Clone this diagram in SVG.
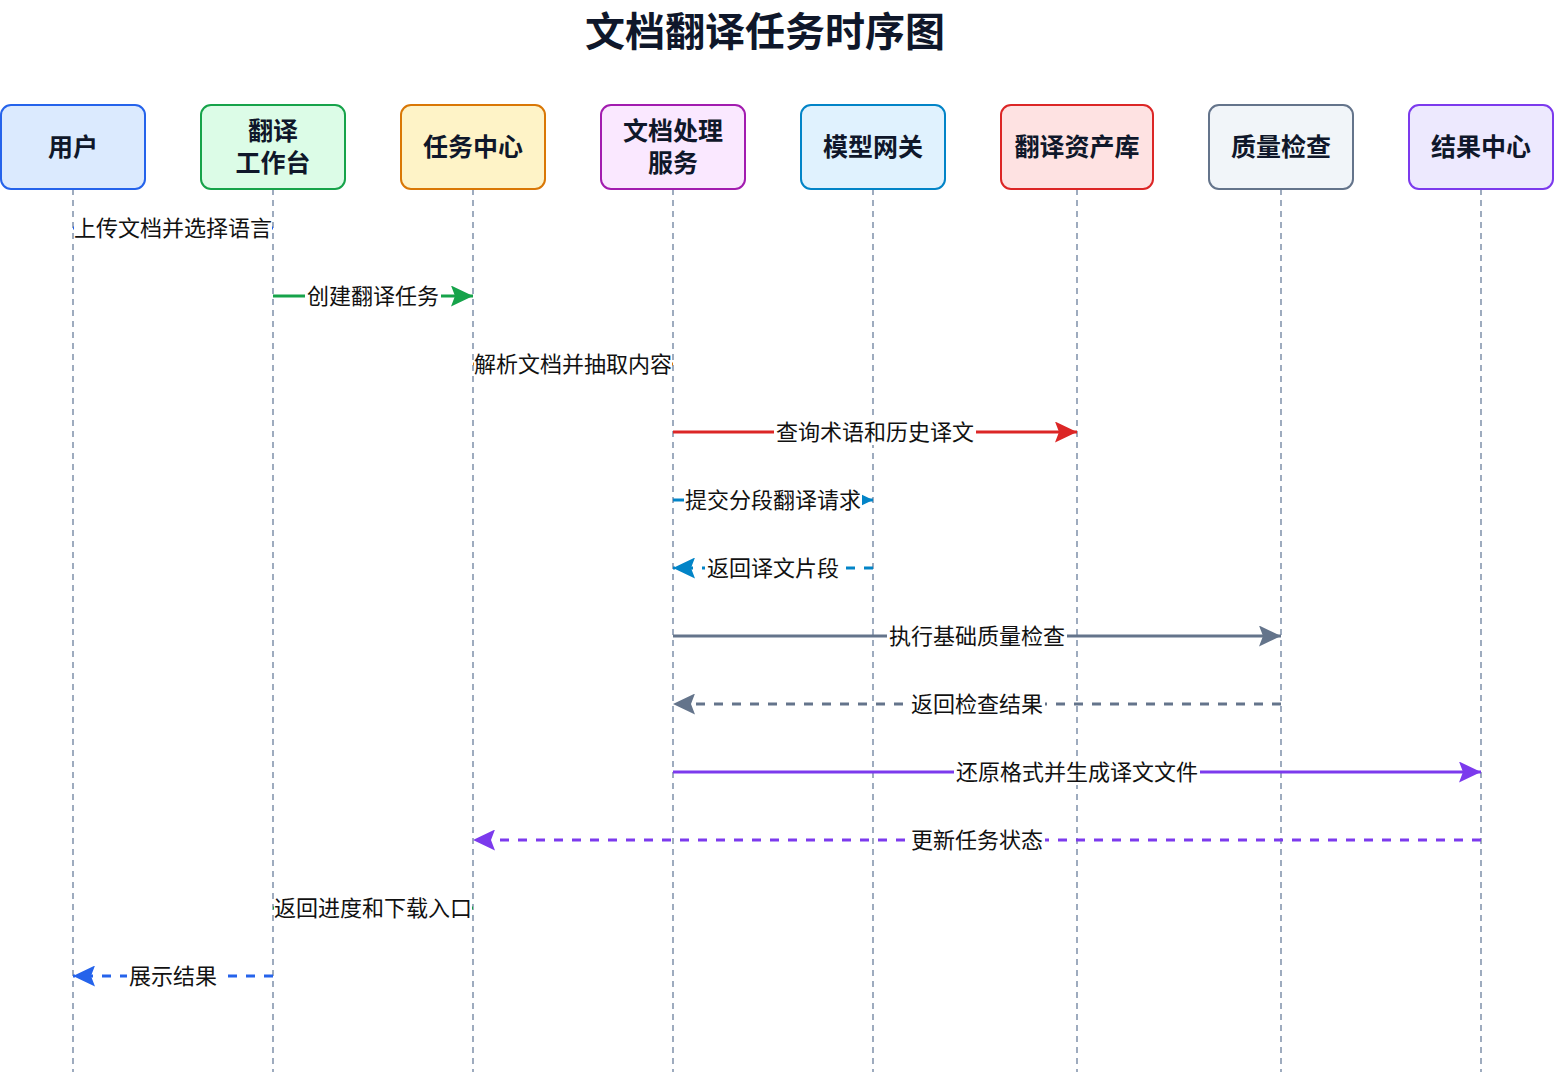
<svg xmlns="http://www.w3.org/2000/svg" width="1554" height="1072" viewBox="0 0 1554 1072">
<style>
.title{font-family:"Noto Sans CJK SC","Noto Sans",sans-serif;font-size:40px;font-weight:700;fill:#0f172a}
.nt{font-family:"Noto Sans CJK SC","Noto Sans",sans-serif;font-size:25px;font-weight:700;fill:#0f172a}
.box{stroke-width:2}
.life{stroke:#94a3b8;stroke-width:1.8;stroke-dasharray:6 5;fill:none}
.msg{stroke-width:3;fill:none}
.dash{stroke-dasharray:9 9}
.lbl{font-family:"Noto Sans CJK SC","Noto Sans",sans-serif;font-size:22px;fill:#111111}
.lbg{fill:#ffffff}
</style>
<defs>
<marker id="a-blue" markerUnits="userSpaceOnUse" markerWidth="22" markerHeight="21" refX="22" refY="10.5" orient="auto"><path d="M0,0 L22,10.5 L0,21 L4,10.5 z" fill="#2563eb"/></marker>
<marker id="a-green" markerUnits="userSpaceOnUse" markerWidth="22" markerHeight="21" refX="22" refY="10.5" orient="auto"><path d="M0,0 L22,10.5 L0,21 L4,10.5 z" fill="#16a34a"/></marker>
<marker id="a-orange" markerUnits="userSpaceOnUse" markerWidth="22" markerHeight="21" refX="22" refY="10.5" orient="auto"><path d="M0,0 L22,10.5 L0,21 L4,10.5 z" fill="#d97706"/></marker>
<marker id="a-red" markerUnits="userSpaceOnUse" markerWidth="22" markerHeight="21" refX="22" refY="10.5" orient="auto"><path d="M0,0 L22,10.5 L0,21 L4,10.5 z" fill="#dc2626"/></marker>
<marker id="a-cyan" markerUnits="userSpaceOnUse" markerWidth="22" markerHeight="21" refX="22" refY="10.5" orient="auto"><path d="M0,0 L22,10.5 L0,21 L4,10.5 z" fill="#0284c7"/></marker>
<marker id="a-slate" markerUnits="userSpaceOnUse" markerWidth="22" markerHeight="21" refX="22" refY="10.5" orient="auto"><path d="M0,0 L22,10.5 L0,21 L4,10.5 z" fill="#64748b"/></marker>
<marker id="a-purple" markerUnits="userSpaceOnUse" markerWidth="22" markerHeight="21" refX="22" refY="10.5" orient="auto"><path d="M0,0 L22,10.5 L0,21 L4,10.5 z" fill="#7c3aed"/></marker>
</defs>
<rect width="1554" height="1072" fill="#ffffff"/>
<text class="title" x="765" y="29" text-anchor="middle" dominant-baseline="central">文档翻译任务时序图</text>

<g id="lifelines">
<line class="life" x1="73" y1="189" x2="73" y2="1072"/>
<line class="life" x1="273" y1="189" x2="273" y2="1072"/>
<line class="life" x1="473" y1="189" x2="473" y2="1072"/>
<line class="life" x1="673" y1="189" x2="673" y2="1072"/>
<line class="life" x1="873" y1="189" x2="873" y2="1072"/>
<line class="life" x1="1077" y1="189" x2="1077" y2="1072"/>
<line class="life" x1="1281" y1="189" x2="1281" y2="1072"/>
<line class="life" x1="1481" y1="189" x2="1481" y2="1072"/>
</g>

<g id="node-user">
<rect class="box" x="1" y="105" width="144" height="84" rx="10" fill="#dbeafe" stroke="#2563eb"/>
<text class="nt" x="73" y="145" text-anchor="middle" dominant-baseline="central">用户</text>
</g>
<g id="node-workbench">
<rect class="box" x="201" y="105" width="144" height="84" rx="10" fill="#dcfce7" stroke="#16a34a"/>
<text class="nt" x="273" y="129" text-anchor="middle" dominant-baseline="central">翻译</text>
<text class="nt" x="273" y="161" text-anchor="middle" dominant-baseline="central">工作台</text>
</g>
<g id="node-task">
<rect class="box" x="401" y="105" width="144" height="84" rx="10" fill="#fef3c7" stroke="#d97706"/>
<text class="nt" x="473" y="145" text-anchor="middle" dominant-baseline="central">任务中心</text>
</g>
<g id="node-doc">
<rect class="box" x="601" y="105" width="144" height="84" rx="10" fill="#fae8ff" stroke="#a21caf"/>
<text class="nt" x="673" y="129" text-anchor="middle" dominant-baseline="central">文档处理</text>
<text class="nt" x="673" y="161" text-anchor="middle" dominant-baseline="central">服务</text>
</g>
<g id="node-model">
<rect class="box" x="801" y="105" width="144" height="84" rx="10" fill="#e0f2fe" stroke="#0284c7"/>
<text class="nt" x="873" y="145" text-anchor="middle" dominant-baseline="central">模型网关</text>
</g>
<g id="node-asset">
<rect class="box" x="1001" y="105" width="152" height="84" rx="10" fill="#fee2e2" stroke="#dc2626"/>
<text class="nt" x="1077" y="145" text-anchor="middle" dominant-baseline="central">翻译资产库</text>
</g>
<g id="node-qa">
<rect class="box" x="1209" y="105" width="144" height="84" rx="10" fill="#f1f5f9" stroke="#64748b"/>
<text class="nt" x="1281" y="145" text-anchor="middle" dominant-baseline="central">质量检查</text>
</g>
<g id="node-result">
<rect class="box" x="1409" y="105" width="144" height="84" rx="10" fill="#ede9fe" stroke="#7c3aed"/>
<text class="nt" x="1481" y="145" text-anchor="middle" dominant-baseline="central">结果中心</text>
</g>

<g id="connectors">
<line class="msg" x1="73" y1="228" x2="273" y2="228" stroke="#2563eb" marker-end="url(#a-blue)"/>
<rect class="lbg" x="74" y="215" width="198" height="26"/>
<text class="lbl" x="173" y="226" text-anchor="middle" dominant-baseline="central">上传文档并选择语言</text>

<line class="msg" x1="273" y1="296" x2="473" y2="296" stroke="#16a34a" marker-end="url(#a-green)"/>
<rect class="lbg" x="305" y="283" width="136" height="26"/>
<text class="lbl" x="373" y="294" text-anchor="middle" dominant-baseline="central">创建翻译任务</text>

<line class="msg" x1="473" y1="364" x2="673" y2="364" stroke="#d97706" marker-end="url(#a-orange)"/>
<rect class="lbg" x="474" y="351" width="198" height="26"/>
<text class="lbl" x="573" y="362" text-anchor="middle" dominant-baseline="central">解析文档并抽取内容</text>

<line class="msg" x1="673" y1="432" x2="1077" y2="432" stroke="#dc2626" marker-end="url(#a-red)"/>
<rect class="lbg" x="774" y="419" width="202" height="26"/>
<text class="lbl" x="875" y="430" text-anchor="middle" dominant-baseline="central">查询术语和历史译文</text>

<line class="msg" x1="673" y1="500" x2="873" y2="500" stroke="#0284c7" marker-end="url(#a-cyan)"/>
<rect class="lbg" x="684" y="487" width="178" height="26"/>
<text class="lbl" x="773" y="498" text-anchor="middle" dominant-baseline="central">提交分段翻译请求</text>

<line class="msg dash" x1="873" y1="568" x2="673" y2="568" stroke="#0284c7" marker-end="url(#a-cyan)"/>
<rect class="lbg" x="705" y="555" width="136" height="26"/>
<text class="lbl" x="773" y="566" text-anchor="middle" dominant-baseline="central">返回译文片段</text>

<line class="msg" x1="673" y1="636" x2="1281" y2="636" stroke="#64748b" marker-end="url(#a-slate)"/>
<rect class="lbg" x="887" y="623" width="180" height="26"/>
<text class="lbl" x="977" y="634" text-anchor="middle" dominant-baseline="central">执行基础质量检查</text>

<line class="msg dash" x1="1281" y1="704" x2="673" y2="704" stroke="#64748b" marker-end="url(#a-slate)"/>
<rect class="lbg" x="909" y="691" width="136" height="26"/>
<text class="lbl" x="977" y="702" text-anchor="middle" dominant-baseline="central">返回检查结果</text>

<line class="msg" x1="673" y1="772" x2="1481" y2="772" stroke="#7c3aed" marker-end="url(#a-purple)"/>
<rect class="lbg" x="954" y="759" width="246" height="26"/>
<text class="lbl" x="1077" y="770" text-anchor="middle" dominant-baseline="central">还原格式并生成译文文件</text>

<line class="msg dash" x1="1481" y1="840" x2="473" y2="840" stroke="#7c3aed" marker-end="url(#a-purple)"/>
<rect class="lbg" x="909" y="827" width="136" height="26"/>
<text class="lbl" x="977" y="838" text-anchor="middle" dominant-baseline="central">更新任务状态</text>

<line class="msg dash" x1="473" y1="908" x2="273" y2="908" stroke="#16a34a" marker-end="url(#a-green)"/>
<rect class="lbg" x="274" y="895" width="198" height="26"/>
<text class="lbl" x="373" y="906" text-anchor="middle" dominant-baseline="central">返回进度和下载入口</text>

<line class="msg dash" x1="273" y1="976" x2="73" y2="976" stroke="#2563eb" marker-end="url(#a-blue)"/>
<rect class="lbg" x="127" y="963" width="92" height="26"/>
<text class="lbl" x="173" y="974" text-anchor="middle" dominant-baseline="central">展示结果</text>
</g>
</svg>
